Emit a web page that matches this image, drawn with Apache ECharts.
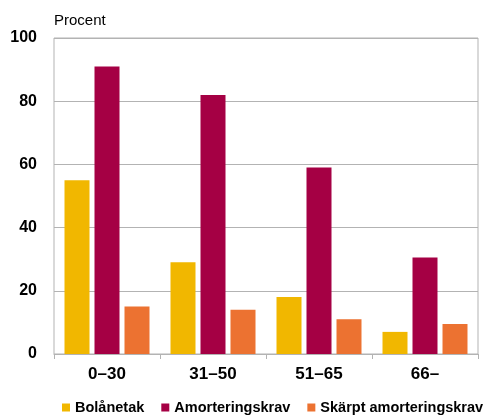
<!DOCTYPE html>
<html>
<head>
<meta charset="utf-8">
<script src="https://cdn.jsdelivr.net/npm/echarts@6/dist/echarts.min.js"></script>
<style>
  html, body { margin: 0; padding: 0; background: #fff; }
  #chart { width: 484px; height: 415px; }
</style>
</head>
<body>
<div id="chart"></div>
<script>
// Age groups on the x axis
const categories = ['0\u201330', '31\u201350', '51\u201365', '66\u2013'];

// Share of households affected, percent
const bolanetak = [55, 29, 18, 7];
const amorteringskrav = [91, 82, 59, 30.5];
const skarptAmorteringskrav = [15, 14, 11, 9.5];

const seriesNames = ['Bolånetak', 'Amorteringskrav', 'Skärpt amorteringskrav'];
const seriesColors = ['#F1B700', '#A50044', '#EC7231'];

const FONT = '"Liberation Sans", Arial, sans-serif';

const chart = echarts.init(document.getElementById('chart'), null, { renderer: 'canvas' });

const makeBar = (name, data, color) => ({
  name: name,
  type: 'bar',
  data: data,
  barWidth: 25,
  barGap: '20%',
  itemStyle: { color: color },
  emphasis: { disabled: true }
});

chart.setOption({
  animation: false,
  grid: {
    left: 54, right: 6, top: 38, bottom: 61,
    show: true, borderColor: '#b3b3b3', borderWidth: 1
  },
  graphic: [{
    type: 'text', left: 54, top: 13,
    style: { text: 'Procent', font: '15px ' + FONT, fill: '#000' }
  }],
  legend: {
    left: 57, top: 395, width: 428,
    itemWidth: 8, itemHeight: 8, itemGap: 17,
    icon: 'rect',
    textStyle: { fontFamily: FONT, fontSize: 14.5, fontWeight: 'bold', color: '#000' },
    data: seriesNames
  },
  xAxis: {
    type: 'category',
    data: categories,
    axisLine: { lineStyle: { color: '#b3b3b3', width: 1 } },
    axisTick: { show: true, length: 5, lineStyle: { color: '#b3b3b3' } },
    axisLabel: { fontFamily: FONT, fontSize: 17, fontWeight: 'bold', color: '#000', margin: 12 }
  },
  yAxis: {
    type: 'value',
    min: 0, max: 100, interval: 20,
    axisLine: { show: false },
    axisTick: { show: false },
    splitLine: { lineStyle: { color: '#b3b3b3', width: 1 } },
    axisLabel: { fontFamily: FONT, fontSize: 16, fontWeight: 'bold', color: '#000', margin: 17 }
  },
  series: [
    makeBar(seriesNames[0], bolanetak, seriesColors[0]),
    makeBar(seriesNames[1], amorteringskrav, seriesColors[1]),
    makeBar(seriesNames[2], skarptAmorteringskrav, seriesColors[2])
  ]
});
</script>
</body>
</html>
